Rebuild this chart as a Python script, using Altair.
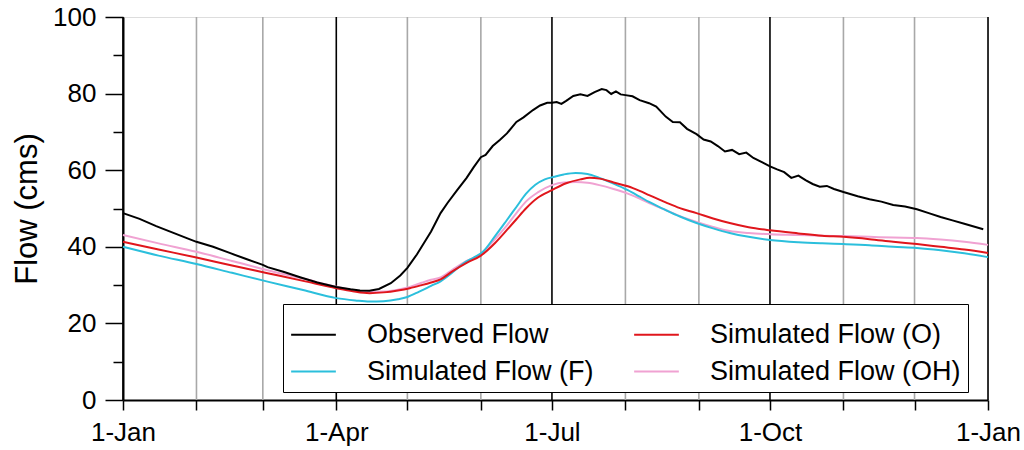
import altair as alt
import pandas as pd

# ---- axis layout data ----
month_start_days = [0, 31, 59, 90, 120, 151, 181, 212, 243, 273, 304, 334, 365]
quarter_days = [0, 90, 181, 273, 365]
quarter_labels = ["1-Jan", "1-Apr", "1-Jul", "1-Oct", "1-Jan"]
flow_ticks = [0, 10, 20, 30, 40, 50, 60, 70, 80, 90, 100]

series_names = ["Observed Flow", "Simulated Flow (O)", "Simulated Flow (F)", "Simulated Flow (OH)"]
series_colors = ["#000000", "#e0161c", "#2bbfdc", "#f0a2d2"]

# ---- observed daily flow (day of year, cms) ----
obs_day = [0, 7, 14, 21, 28, 31, 38, 45, 52, 59, 61, 68, 75, 82, 90, 96, 100, 104, 108,
           113, 117, 120, 124, 127, 130, 134, 137, 141, 145, 148, 151, 153, 156, 159, 162,
           166, 169, 173, 176, 179, 181, 183, 185, 187, 190, 193, 196, 199, 202, 204, 206,
           208, 210, 212, 215, 218, 222, 225, 229, 232, 235, 238, 242, 245, 248, 251, 254,
           257, 260, 263, 266, 270, 273, 276, 279, 282, 285, 288, 291, 294, 297, 300, 304,
           310, 315, 320, 325, 330, 335, 340, 345, 350, 355, 363]
obs_flow = [48.8, 47.3, 45.4, 43.7, 42.0, 41.3, 40.0, 38.4, 36.8, 35.3, 34.7, 33.4, 32.0,
            30.7, 29.5, 28.9, 28.6, 28.5, 29.0, 30.5, 32.5, 34.5, 38.0, 41.0, 44.0, 48.8,
            51.5, 54.8, 58.0, 60.8, 63.4, 64.0, 66.3, 67.9, 69.6, 72.6, 73.8, 75.7, 76.9,
            77.6, 77.6, 77.8, 77.3, 78.1, 79.4, 79.8, 79.4, 80.4, 81.2, 80.9, 79.9, 80.6,
            79.8, 79.6, 79.3, 78.3, 77.5, 76.6, 74.0, 72.6, 72.5, 70.8, 69.4, 68.0, 67.5,
            66.3, 64.9, 65.3, 64.2, 64.6, 63.2, 62.0, 61.0, 60.2, 59.5, 58.0, 58.6, 57.4,
            56.4, 55.7, 55.9, 55.1, 54.3, 53.2, 52.4, 51.8, 50.9, 50.5, 49.8, 48.8, 47.8,
            46.9, 46.0, 44.6]

# ---- simulated flow, forcing F ----
f_day = [0, 15, 31, 46, 61, 76, 90, 98, 104, 110, 116, 120, 125, 130, 134, 139, 144, 148,
         152, 157, 162, 166, 170, 174, 178, 182, 186, 191, 196, 201, 207, 213, 218, 222,
         228, 235, 242, 249, 256, 264, 273, 285, 295, 304, 315, 325, 335, 345, 355, 365]
f_flow = [40.0, 37.7, 35.5, 33.2, 30.9, 28.7, 26.6, 26.0, 25.7, 25.8, 26.3, 26.9, 28.3,
          29.8, 31.0, 33.3, 35.8, 37.2, 38.8, 42.8, 47.0, 50.4, 53.8, 56.2, 57.6, 58.3,
          58.9, 59.3, 59.0, 58.0, 56.5, 54.8, 53.1, 51.7, 49.9, 47.9, 46.2, 44.8, 43.6,
          42.6, 41.8, 41.2, 40.9, 40.7, 40.4, 40.0, 39.7, 39.1, 38.3, 37.3]

# ---- simulated flow, forcing O ----
o_day = [0, 15, 31, 46, 61, 76, 90, 97, 104, 110, 116, 121, 126, 130, 134, 139, 145, 151,
         157, 162, 166, 170, 175, 181, 187, 193, 197, 201, 207, 213, 218, 222, 229, 235,
         242, 249, 256, 264, 273, 285, 295, 304, 315, 325, 335, 345, 355, 365]
o_flow = [41.3, 39.3, 37.2, 35.1, 33.1, 31.1, 29.2, 28.4, 27.9, 28.1, 28.6, 29.2, 30.0,
          30.7, 31.5, 33.6, 35.8, 37.7, 41.0, 44.4, 47.2, 50.0, 52.8, 54.8, 56.6, 57.6,
          58.0, 57.8, 56.8, 55.8, 54.6, 53.5, 51.6, 50.1, 48.8, 47.4, 46.2, 45.1, 44.3,
          43.5, 42.9, 42.6, 42.0, 41.3, 40.7, 40.0, 39.3, 38.4]

# ---- simulated flow, forcing OH ----
oh_day = [0, 15, 31, 46, 61, 76, 90, 97, 104, 110, 116, 121, 126, 130, 134, 139, 145, 151,
          157, 162, 166, 170, 175, 181, 186, 191, 196, 201, 207, 213, 218, 222, 229, 235,
          242, 249, 256, 264, 273, 285, 295, 304, 315, 325, 335, 345, 355, 365]
oh_flow = [43.1, 40.9, 38.7, 36.3, 33.9, 31.7, 29.6, 28.7, 28.2, 28.3, 28.8, 29.5, 30.6,
           31.4, 32.0, 34.0, 36.3, 38.2, 42.0, 45.6, 48.8, 51.8, 54.2, 56.1, 56.8, 56.9,
           56.7, 56.1, 55.1, 53.9, 52.6, 51.4, 49.6, 48.0, 46.5, 45.2, 44.1, 43.6, 43.3,
           43.1, 42.9, 42.8, 42.6, 42.4, 42.3, 41.9, 41.3, 40.5]

FONT = "Liberation Sans"

sim_frames = []
for name, days, vals, order in [
    ("Simulated Flow (OH)", oh_day, oh_flow, 0),
    ("Simulated Flow (F)", f_day, f_flow, 1),
    ("Simulated Flow (O)", o_day, o_flow, 2),
]:
    sim_frames.append(pd.DataFrame({"day": days, "flow": vals, "series": name, "layer": order}))
simulated = pd.concat(sim_frames, ignore_index=True)
observed = pd.DataFrame({"day": obs_day, "flow": obs_flow, "series": "Observed Flow", "layer": 3})

grid = pd.DataFrame({
    "day": month_start_days,
    "quarter": [d in quarter_days for d in month_start_days],
})

label_expr = " : ".join(
    f"datum.value == {d} ? '{lab}'" for d, lab in zip(quarter_days, quarter_labels)
) + " : ''"

x_scale = alt.Scale(domain=[0, 365], nice=False, zero=False)
y_scale = alt.Scale(domain=[0, 100], nice=False)

x_axis = alt.Axis(
    values=month_start_days, labelExpr=label_expr, title=None, grid=False,
    tickSize=10, tickWidth=1.5, tickColor="black", labelPadding=9,
    labelFontSize=26, labelFont=FONT, labelColor="black",
    domainColor="black", domainWidth=2, labelOverlap=False, labelFlush=False,
)
y_axis = alt.Axis(
    values=flow_ticks, labelExpr="datum.value % 20 == 0 ? datum.label : ''",
    title="Flow (cms)", grid=False,
    tickSize={"condition": {"test": "datum.value % 20 == 0", "value": 18}, "value": 10},
    tickWidth=1.5, tickColor="black", labelPadding=9,
    labelFontSize=26, labelFont=FONT, labelColor="black",
    titleFontSize=31, titleFont=FONT, titleFontWeight="normal", titleColor="black",
    titlePadding=9, domainColor="black", domainWidth=2, labelOverlap=False,
    labelFlush=False,
)

color = alt.Color(
    "series:N",
    scale=alt.Scale(domain=series_names, range=series_colors),
    legend=alt.Legend(
        title=None, orient="none", legendX=160, legendY=287, columns=2,
        direction="horizontal",
        symbolType="stroke", symbolStrokeWidth=2, symbolSize=2000,
        labelFontSize=27, labelFont=FONT, labelColor="black",
        labelOffset=30, columnPadding=36, rowPadding=-4,
        strokeColor="black", fillColor="white", padding=7,
        labelLimit=400,
    ),
)

gridlines = alt.Chart(grid).mark_rule(strokeWidth=1.6).encode(
    x=alt.X("day:Q", scale=x_scale, axis=x_axis),
    color=alt.condition("datum.quarter", alt.value("#000000"), alt.value("#a8a8a8")),
)

sim_lines = alt.Chart(simulated).mark_line(strokeWidth=2, interpolate="monotone").encode(
    x=alt.X("day:Q", scale=x_scale, axis=x_axis),
    y=alt.Y("flow:Q", scale=y_scale, axis=y_axis),
    color=color,
    detail="series:N",
    order="layer:Q",
)

obs_line = alt.Chart(observed).mark_line(strokeWidth=2).encode(
    x=alt.X("day:Q", scale=x_scale, axis=x_axis),
    y=alt.Y("flow:Q", scale=y_scale, axis=y_axis),
    color=color,
)

chart = alt.layer(gridlines, sim_lines, obs_line).properties(
    width=865, height=383,
    padding={"left": 123, "top": 17, "right": 36, "bottom": 50},
    autosize=alt.AutoSizeParams(type="none"),
).configure_view(
    stroke="black", strokeWidth=2,
).configure(font=FONT)

chart.save("out.html", embed_options={"renderer": "svg", "actions": False})
